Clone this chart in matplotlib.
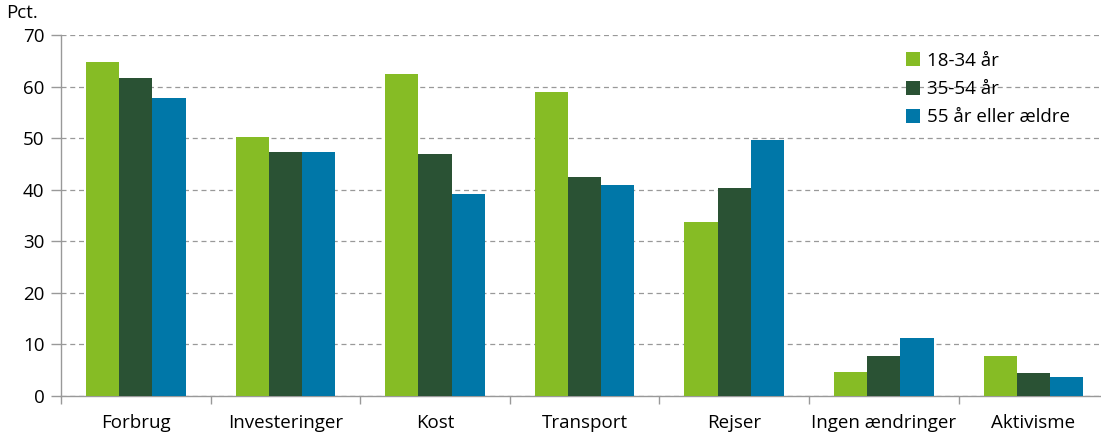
import matplotlib.pyplot as plt
import numpy as np

plt.rcParams['font.family'] = ['Open Sans', 'DejaVu Sans']

kategorier = ['Forbrug', 'Investeringer', 'Kost', 'Transport', 'Rejser',
              'Ingen ændringer', 'Aktivisme']
serier = ['18-34 år', '35-54 år', '55 år eller ældre']
aar_18_34 = [64.8, 50.3, 62.5, 58.9, 33.7, 4.6, 7.7]
aar_35_54 = [61.7, 47.3, 47.0, 42.5, 40.4, 7.7, 4.4]
aar_55 = [57.8, 47.3, 39.1, 41.0, 49.7, 11.2, 3.6]
farver = ['#86bc25', '#2a5234', '#0077a8']

fs = 13.5

fig = plt.figure(figsize=(11.01, 4.34), dpi=100)
ax = fig.add_axes([61/1101, 38/434, 1039/1101, 361/434])

x = np.arange(len(kategorier))
b = 0.222
for i, (vals, lab) in enumerate(zip([aar_18_34, aar_35_54, aar_55], serier)):
    ax.bar(x + (i - 1) * b, vals, b, color=farver[i], label=lab, zorder=3)

ax.set_xlim(-0.5, 6.445)
ax.set_ylim(0, 70)
ax.set_yticks(range(0, 71, 10))
ax.yaxis.grid(True, ls=(0, (4, 3)), color='#999999', lw=0.9, zorder=0)

ax.set_xticks(np.arange(-0.5, 6.5, 1))
ax.set_xticklabels([])
ax.set_xticks(x, minor=True)
ax.set_xticklabels(kategorier, minor=True, fontsize=fs)
ax.tick_params(axis='x', which='minor', length=0, pad=13)
ax.tick_params(axis='x', which='major', length=6, color='#999999', width=1)
ax.tick_params(axis='y', length=7, color='#999999', width=1, labelsize=fs, pad=5)

for s in ['top', 'right']:
    ax.spines[s].set_visible(False)
for s in ['left', 'bottom']:
    ax.spines[s].set_color('#999999')
    ax.spines[s].set_linewidth(1)

fig.text(6/1101, 1 - 13/434, 'Pct.', fontsize=fs, va='center', ha='left')

ax.legend(loc='upper right', bbox_to_anchor=(0.987, 1.0), frameon=False,
          fontsize=fs, handlelength=0.75, handleheight=0.75,
          handletextpad=0.35, labelspacing=0.55)

fig.savefig('out.png', dpi=100)
